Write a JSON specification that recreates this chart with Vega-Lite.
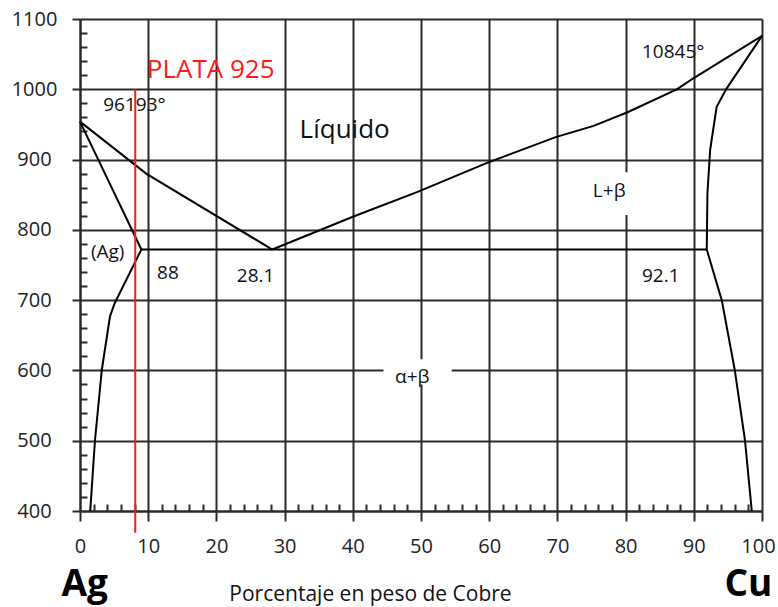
{
  "$schema": "https://vega.github.io/schema/vega-lite/v6.json",
  "width": 682,
  "height": 492,
  "autosize": {"type": "none"},
  "padding": {"left": 80, "top": 19, "right": 16, "bottom": 96},
  "background": "white",
  "config": {
    "view": {"stroke": null},
    "font": "Open Sans",
    "text": {"font": "Open Sans"}
  },
  "datasets": {
    "curves": [
      {"curve": "liqL", "o": 1, "x": 0, "y": 954},
      {"curve": "liqL", "o": 2, "x": 9.7, "y": 880},
      {"curve": "liqL", "o": 3, "x": 28.2, "y": 772},
      {"curve": "solL", "o": 1, "x": 0, "y": 954},
      {"curve": "solL", "o": 2, "x": 9.0, "y": 772},
      {"curve": "svL", "o": 1, "x": 9.0, "y": 772},
      {"curve": "svL", "o": 2, "x": 5.1, "y": 696},
      {"curve": "svL", "o": 3, "x": 4.4, "y": 677},
      {"curve": "svL", "o": 4, "x": 3.2, "y": 601},
      {"curve": "svL", "o": 5, "x": 2.2, "y": 501},
      {"curve": "svL", "o": 6, "x": 1.5, "y": 400},
      {"curve": "liqR", "o": 1, "x": 28.2, "y": 772},
      {"curve": "liqR", "o": 2, "x": 40.1, "y": 819},
      {"curve": "liqR", "o": 3, "x": 49.5, "y": 854},
      {"curve": "liqR", "o": 4, "x": 59.6, "y": 895},
      {"curve": "liqR", "o": 5, "x": 69.75, "y": 932},
      {"curve": "liqR", "o": 6, "x": 75.3, "y": 948},
      {"curve": "liqR", "o": 7, "x": 80.2, "y": 967},
      {"curve": "liqR", "o": 8, "x": 87.5, "y": 1000},
      {"curve": "liqR", "o": 9, "x": 90, "y": 1016},
      {"curve": "liqR", "o": 10, "x": 100, "y": 1076},
      {"curve": "solR", "o": 1, "x": 100, "y": 1076},
      {"curve": "solR", "o": 2, "x": 94.8, "y": 1001},
      {"curve": "solR", "o": 3, "x": 93.35, "y": 975},
      {"curve": "solR", "o": 4, "x": 92.4, "y": 914},
      {"curve": "solR", "o": 5, "x": 92.0, "y": 852},
      {"curve": "solR", "o": 6, "x": 91.9, "y": 772},
      {"curve": "svR", "o": 1, "x": 91.9, "y": 772},
      {"curve": "svR", "o": 2, "x": 94.1, "y": 700},
      {"curve": "svR", "o": 3, "x": 96.0, "y": 601},
      {"curve": "svR", "o": 4, "x": 97.5, "y": 501},
      {"curve": "svR", "o": 5, "x": 98.5, "y": 400},
      {"curve": "eut", "o": 1, "x": 9.0, "y": 772},
      {"curve": "eut", "o": 2, "x": 91.9, "y": 772}
    ],
    "masks": [
      {"x": 75.0, "x2": 81.5, "y": 821, "y2": 882},
      {"x": 44.5, "x2": 54.5, "y": 580, "y2": 616}
    ],
    "labels": [
      {"t": "96193°", "x": 3.4, "y": 978},
      {"t": "10845°", "x": 82.4, "y": 1053},
      {"t": "(Ag)", "x": 1.6, "y": 769},
      {"t": "88", "x": 11.3, "y": 739},
      {"t": "28.1", "x": 23.0, "y": 735},
      {"t": "92.1", "x": 82.4, "y": 735},
      {"t": "L+β", "x": 75.2, "y": 855},
      {"t": "α+β", "x": 46.2, "y": 590}
    ],
    "big": [
      {"t": "Líquido", "x": 32.2, "y": 930}
    ],
    "plata": [
      {"t": "PLATA 925", "x": 9.8, "y": 1027}
    ],
    "elements": [
      {"t": "Ag", "x": 0.7, "y": 279},
      {"t": "Cu", "x": 98.0, "y": 279}
    ],
    "red": [
      {"x": 8.1, "y": 1000, "y2": 369}
    ]
  },
  "layer": [
    {
      "data": {"name": "curves"},
      "mark": {"type": "line", "color": "black", "strokeWidth": 2},
      "encoding": {
        "x": {
          "field": "x", "type": "quantitative",
          "scale": {"domain": [0, 100], "nice": false, "zero": false},
          "axis": {
            "values": [0,2,4,6,8,10,12,14,16,18,20,22,24,26,28,30,32,34,36,38,40,42,44,46,48,50,52,54,56,58,60,62,64,66,68,70,72,74,76,78,80,82,84,86,88,90,92,94,96,98,100],
            "tickCount": 1000,
            "format": "d",
            "grid": true,
            "gridColor": "#2a2a2a",
            "gridWidth": 2,
            "gridOpacity": {"condition": {"test": "datum.value % 10 === 0", "value": 1}, "value": 0},
            "tickSize": {"condition": {"test": "datum.value % 10 === 0", "value": 10}, "value": -7},
            "tickWidth": 2,
            "tickColor": "#2a2a2a",
            "domainColor": "#2a2a2a",
            "domainWidth": 2,
            "labelExpr": "datum.value % 10 === 0 ? datum.label : ''",
            "labelOffset": {"condition": {"test": "datum.value === 100", "value": -4}, "value": 0},
            "labelFont": "Open Sans",
            "labelFontSize": 20,
            "labelColor": "#222",
            "labelPadding": 15,
            "labelOverlap": false,
            "labelFlush": false,
            "labelBound": false,
            "title": "Porcentaje en peso de Cobre",
            "titleFont": "Open Sans",
            "titleFontSize": 21,
            "titleFontWeight": "normal",
            "titleColor": "#111",
            "titleX": 290,
            "titleY": 89,
            "titleAlign": "center",
            "titleBaseline": "alphabetic"
          }
        },
        "y": {
          "field": "y", "type": "quantitative",
          "scale": {"domain": [400, 1100], "nice": false, "zero": false},
          "axis": {
            "values": [400,420,440,460,480,500,520,540,560,580,600,620,640,660,680,700,720,740,760,780,800,820,840,860,880,900,920,940,960,980,1000,1020,1040,1060,1080,1100],
            "tickCount": 1000,
            "grid": true,
            "gridColor": "#2a2a2a",
            "gridWidth": 2,
            "gridOpacity": {"condition": {"test": "datum.value % 100 === 0", "value": 1}, "value": 0},
            "tickSize": {"condition": {"test": "datum.value % 100 === 0", "value": 8}, "value": -7},
            "tickWidth": 2,
            "tickColor": "#2a2a2a",
            "domainColor": "#2a2a2a",
            "domainWidth": 2,
            "labelExpr": "datum.value % 100 === 0 ? datum.label : ''",
            "labelFont": "Open Sans",
            "labelFontSize": 20,
            "labelColor": "#222",
            "labelAlign": "center",
            "labelPadding": 38,
            "labelOverlap": false,
            "labelFlush": false,
            "labelBound": false,
            "format": "d",
            "title": null
          }
        },
        "detail": {"field": "curve"},
        "order": {"field": "o", "type": "quantitative"}
      }
    },
    {
      "data": {"name": "masks"},
      "mark": {"type": "rect", "fill": "white"},
      "encoding": {
        "x": {"field": "x", "type": "quantitative"},
        "x2": {"field": "x2"},
        "y": {"field": "y", "type": "quantitative"},
        "y2": {"field": "y2"}
      }
    },
    {
      "data": {"name": "red"},
      "mark": {"type": "rule", "color": "#ff1a1a", "strokeWidth": 2},
      "encoding": {
        "x": {"field": "x", "type": "quantitative"},
        "y": {"field": "y", "type": "quantitative"},
        "y2": {"field": "y2"}
      }
    },
    {
      "data": {"name": "labels"},
      "mark": {"type": "text", "font": "Open Sans", "fontSize": 19, "align": "left", "baseline": "middle", "color": "#111"},
      "encoding": {
        "x": {"field": "x", "type": "quantitative"},
        "y": {"field": "y", "type": "quantitative"},
        "text": {"field": "t"}
      }
    },
    {
      "data": {"name": "big"},
      "mark": {"type": "text", "font": "Open Sans", "fontSize": 26, "align": "left", "baseline": "alphabetic", "color": "#111"},
      "encoding": {
        "x": {"field": "x", "type": "quantitative"},
        "y": {"field": "y", "type": "quantitative"},
        "text": {"field": "t"}
      }
    },
    {
      "data": {"name": "plata"},
      "mark": {"type": "text", "font": "Open Sans", "fontSize": 26, "align": "left", "baseline": "middle", "color": "#ff1a1a"},
      "encoding": {
        "x": {"field": "x", "type": "quantitative"},
        "y": {"field": "y", "type": "quantitative"},
        "text": {"field": "t"}
      }
    },
    {
      "data": {"name": "elements"},
      "mark": {"type": "text", "font": "Open Sans", "fontSize": 37, "fontWeight": "bold", "align": "center", "baseline": "alphabetic", "color": "black"},
      "encoding": {
        "x": {"field": "x", "type": "quantitative"},
        "y": {"field": "y", "type": "quantitative"},
        "text": {"field": "t"}
      }
    }
  ]
}
